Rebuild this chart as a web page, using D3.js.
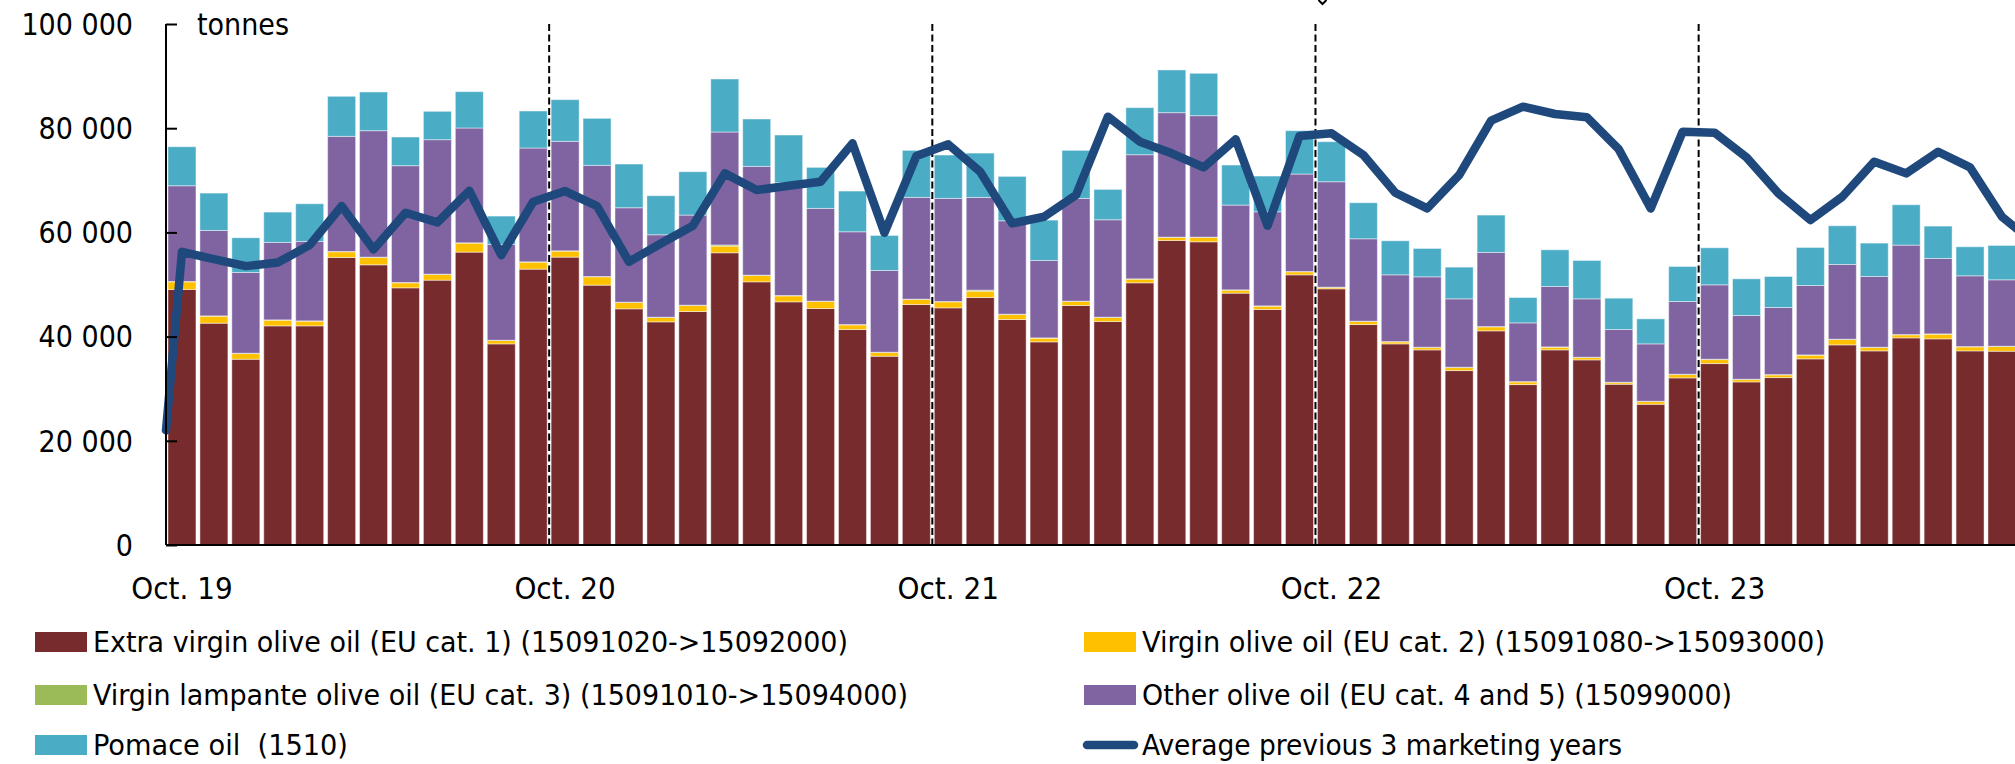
<!DOCTYPE html>
<html>
<head>
<meta charset="utf-8">
<script src="https://cdn.jsdelivr.net/npm/d3@7"></script>
<style>
  html, body { margin: 0; padding: 0; background: #fff; }
  svg { display: block; font-family: "DejaVu Sans Condensed", "DejaVu Sans", sans-serif; }
  text { white-space: pre; }
</style>
</head>
<body>
<svg id="chart" width="2015" height="764"></svg>
<script>
// ---- Data (tonnes) ----
const months = [
  "Oct. 19","Nov. 19","Dec. 19","Jan. 20","Feb. 20","Mar. 20","Apr. 20","May 20","Jun. 20","Jul. 20","Aug. 20","Sep. 20",
  "Oct. 20","Nov. 20","Dec. 20","Jan. 21","Feb. 21","Mar. 21","Apr. 21","May 21","Jun. 21","Jul. 21","Aug. 21","Sep. 21",
  "Oct. 21","Nov. 21","Dec. 21","Jan. 22","Feb. 22","Mar. 22","Apr. 22","May 22","Jun. 22","Jul. 22","Aug. 22","Sep. 22",
  "Oct. 22","Nov. 22","Dec. 22","Jan. 23","Feb. 23","Mar. 23","Apr. 23","May 23","Jun. 23","Jul. 23","Aug. 23","Sep. 23",
  "Oct. 23","Nov. 23","Dec. 23","Jan. 24","Feb. 24","Mar. 24","Apr. 24","May 24","Jun. 24","Jul. 24","Aug. 24"
];
const xTickLabels = ["Oct. 19","Oct. 20","Oct. 21","Oct. 22","Oct. 23"];
const yTicks = [0, 20000, 40000, 60000, 80000, 100000];

const extraVirgin = [49040,42574,35657,42061,42061,55190,53781,49362,50835,56214,38603,52948,55254,49874,45327,42830,44815,56086,50514,46672,45392,41357,36234,46160,45520,47505,43279,38988,45968,42894,50323,58456,58200,48337,45199,51859,49170,42318,38603,37451,33480,41101,30791,37451,35529,30854,27012,32071,34825,31303,32135,35721,38411,37258,39756,39563,37258,37194];
const virgin = [1475,1345,1089,1089,897,1088,1409,961,1089,1730,641,1345,1152,1601,1217,832,1153,1281,1217,1153,1344,897,704,961,1152,1217,960,705,768,768,703,576,832,577,641,577,257,576,385,448,576,768,512,512,448,321,512,640,768,448,513,705,1025,641,576,898,770,897];
const lampante = [60,60,60,60,60,60,60,60,60,60,60,60,60,60,60,60,60,220,60,60,60,60,60,60,60,200,60,60,60,60,60,60,60,60,60,60,60,60,60,60,60,60,60,60,60,60,60,60,60,60,60,60,60,60,60,60,60,60];
const otherOil = [18380,16398,15502,14861,15246,22098,24275,22418,25812,22033,18383,21842,21010,21330,18128,15822,17295,21680,20882,21650,17807,17807,15694,19536,19793,17787,17935,14860,19729,18704,23828,23891,23314,16270,18063,18704,20240,15822,12811,13516,13133,14221,11275,11595,11212,10122,11019,13965,14285,12236,12876,13324,14349,13580,17167,14476,13580,12748];
const pomace = [7490,7172,6660,5828,7236,7685,7428,5507,5443,6981,5444,7109,8005,9029,8389,7493,8325,10181,9093,9157,7877,7813,6724,9030,8326,8517,8517,7749,9222,5828,9030,8197,8134,7685,6852,8325,7685,6916,6533,5443,6084,7173,4867,7045,7364,6020,4803,6724,7109,7044,5955,7300,7429,6405,7749,6212,5571,6596];
const avgPrev3 = [56278,54870,53525,54229,57559,65052,56727,63771,61914,67998,55638,65884,67934,65052,54357,57879,61274,71328,68126,68958,69727,77091,59929,74658,76899,71648,61722,63003,67165,82215,77412,75170,72480,77861,61274,78501,79013,74851,67614,64603,71008,81447,84136,82727,82087,75939,64603,79333,79141,74402,67486,62362,66845,73570,71328,75491,72480,63003,58000];
const avgStartValue = 22000; // line value drawn at the axis

const seriesNames = [
  "Extra virgin olive oil (EU cat. 1) (15091020->15092000)",
  "Virgin olive oil (EU cat. 2) (15091080->15093000)",
  "Virgin lampante olive oil (EU cat. 3) (15091010->15094000)",
  "Other olive oil (EU cat. 4 and 5) (15099000)",
  "Pomace oil  (1510)",
  "Average previous 3 marketing years"
];
const colors = ["#772b2c", "#ffc000", "#9bbb59", "#8064a2", "#4bacc6", "#1f497d"];
// rendered widths of the legend labels in the reference (styling only)
const legendTextWidths = [755, 683, 815, 590, 255, 480];

// ---- Layout ----
const svg = d3.select("#chart");
const x0 = 166, yTop = 24, yBottom = 545;
const step = 31.93;

const x = d3.scaleBand()
  .domain(months)
  .range([x0, x0 + months.length * step])
  .paddingInner(0.123)
  .paddingOuter(0.0615);
const y = d3.scaleLinear().domain([0, 100000]).range([yBottom, yTop]);

// ---- Stacked bars ----
const barMonths = months.slice(0, extraVirgin.length);
const rows = barMonths.map((m, i) => ({
  m, s0: extraVirgin[i], s1: virgin[i], s2: lampante[i], s3: otherOil[i], s4: pomace[i]
}));
const stack = d3.stack().keys(["s0","s1","s2","s3","s4"]);
const layers = stack(rows);

svg.append("g").selectAll("g")
  .data(layers).join("g")
  .attr("fill", (d, i) => colors[i])
  .selectAll("rect")
  .data(d => d).join("rect")
  .attr("x", d => x(d.data.m))
  .attr("width", x.bandwidth())
  .attr("y", d => y(d[1]))
  .attr("height", d => Math.max(0, y(d[0]) - y(d[1])))
  .attr("stroke", "#ffffff")
  .attr("stroke-opacity", 0.45)
  .attr("stroke-width", 1);

// ---- Dashed marketing-year separators ----
const gapHalf = (x.step() - x.bandwidth()) / 2;
svg.append("g").selectAll("line")
  .data(xTickLabels.slice(1)).join("line")
  .attr("x1", d => x(d) - gapHalf)
  .attr("x2", d => x(d) - gapHalf)
  .attr("y1", y(100000))
  .attr("y2", y(0))
  .attr("stroke", "#000")
  .attr("stroke-width", 2)
  .attr("stroke-dasharray", "7,3.5");

// small cut-off annotation tip at the top of the Oct. 22 separator
svg.append("path")
  .attr("d", `M${x("Oct. 22") - gapHalf + 3},0 l4,4 l4,-4`)
  .attr("fill", "none").attr("stroke", "#000").attr("stroke-width", 2);

// ---- Average line ----
const linePts = [[x.range()[0], avgStartValue]].concat(
  avgPrev3.map((v, i) => [x(months[i]) + x.bandwidth() / 2, v]));
svg.append("path")
  .datum(linePts)
  .attr("fill", "none")
  .attr("stroke", colors[5])
  .attr("stroke-width", 8.5)
  .attr("stroke-linejoin", "round")
  .attr("stroke-linecap", "round")
  .attr("d", d3.line().x(d => d[0]).y(d => y(d[1])));

// ---- Axes ----
const fmt = v => d3.format(",")(v).replace(/,/g, " ");
const yAxis = d3.axisRight(y).tickValues(yTicks).tickSize(11).tickFormat("");
const gy = svg.append("g").attr("transform", `translate(${x0},0)`).call(yAxis);
gy.select(".domain").attr("stroke", "#000").attr("stroke-width", 2)
  .attr("d", `M0,${y(100000)}V${y(0)}`);
gy.selectAll(".tick line").attr("stroke", "#000").attr("stroke-width", 2);

svg.append("g").selectAll("text")
  .data(yTicks).join("text")
  .attr("x", 133)
  .attr("y", d => y(d))
  .attr("dy", "0.36em")
  .attr("text-anchor", "end")
  .attr("font-size", 30)
  .attr("fill", "#000")
  .text(fmt);

svg.append("text")
  .attr("x", 197).attr("y", y(100000)).attr("dy", "0.36em")
  .attr("font-size", 30).attr("fill", "#000").text("tonnes");

// x axis baseline
svg.append("line")
  .attr("x1", x0).attr("x2", 2015)
  .attr("y1", y(0)).attr("y2", y(0))
  .attr("stroke", "#000").attr("stroke-width", 2);

svg.append("g").selectAll("text")
  .data(xTickLabels).join("text")
  .attr("x", d => x(d) + x.bandwidth() / 2)
  .attr("y", 588)
  .attr("dy", "0.36em")
  .attr("text-anchor", "middle")
  .attr("font-size", 31)
  .attr("fill", "#000")
  .text(d => d);

// ---- Legend ----
const legendPos = [
  [35, 642], [1084, 642],
  [35, 695], [1084, 695],
  [35, 745], [1084, 745]
];
const legendOrder = [0, 1, 2, 3, 4, 5];
const lg = svg.append("g").selectAll("g")
  .data(legendOrder).join("g")
  .attr("transform", (d, i) => `translate(${legendPos[i][0]},${legendPos[i][1]})`);
lg.each(function(d) {
  const g = d3.select(this);
  if (d === 5) {
    g.append("line").attr("x1", 3).attr("x2", 50).attr("y1", 0).attr("y2", 0)
      .attr("stroke", colors[d]).attr("stroke-width", 8.5).attr("stroke-linecap", "round");
  } else {
    g.append("rect").attr("x", 0).attr("y", -10).attr("width", 52).attr("height", 20)
      .attr("fill", colors[d]);
  }
  g.append("text").attr("x", 58).attr("y", 0).attr("dy", "0.36em")
    .attr("font-size", 29).attr("fill", "#000")
    .attr("textLength", legendTextWidths[d])
    .attr("lengthAdjust", "spacingAndGlyphs")
    .text(seriesNames[d]);
});
</script>
</body>
</html>
